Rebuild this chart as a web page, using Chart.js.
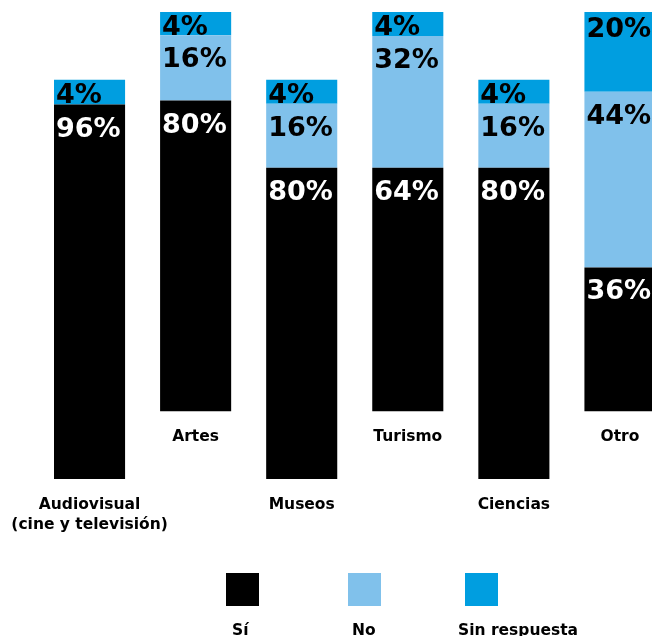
<!DOCTYPE html>
<html>
<head>
<meta charset="utf-8">
<script src="https://cdn.jsdelivr.net/npm/chart.js@4.4.1/dist/chart.umd.min.js"></script>
<style>
  html, body { margin: 0; padding: 0; background: #fff; overflow: hidden; }
  #wrap { width: 680px; height: 636px; }
</style>
</head>
<body>
<div id="wrap"><canvas id="chart"></canvas></div>
<script>
// ---------------------------------------------------------------
//  データ (棒の高さは画像から読んだ値、ラベルは表示されている文字)
// ---------------------------------------------------------------
const categories = [
  ['Audiovisual', '(cine y televisión)'],
  ['Artes'],
  ['Museos'],
  ['Turismo'],
  ['Ciencias'],
  ['Otro']
];
const siValues = [93.8, 77.8, 78, 61, 78, 36];
const noValues = [0, 16.4, 16, 33, 16, 44];
const sinRespuestaValues = [6.2, 5.8, 6, 6, 6, 20];
const siLabels = ['96%', '80%', '80%', '64%', '80%', '36%'];
const noLabels = ['', '16%', '16%', '32%', '16%', '44%'];
const sinRespuestaLabels = ['4%', '4%', '4%', '4%', '4%', '20%'];
const seriesNames = ['Sí', 'No', 'Sin respuesta'];
const seriesColors = ['#000000', '#80c1eb', '#009ee0'];

// 偶数番目の棒を上にずらす量 (軸の単位)
const SHIFT = 17;
const FONT = '"DejaVu Sans", Verdana, sans-serif';

function baseOf(i) { return i % 2 === 1 ? SHIFT : 0; }

const siData = siValues.map((v, i) => [baseOf(i), baseOf(i) + v]);
const noData = noValues.map((v, i) => [baseOf(i) + siValues[i], baseOf(i) + siValues[i] + v]);
const srData = sinRespuestaValues.map((v, i) => [baseOf(i) + siValues[i] + noValues[i], baseOf(i) + siValues[i] + noValues[i] + v]);
const allLabels = [siLabels, noLabels, sinRespuestaLabels];

// ---------------------------------------------------------------
//  ラベル描画プラグイン
// ---------------------------------------------------------------
const labelPlugin = {
  id: 'labelPlugin',
  afterDatasetsDraw(chart) {
    const ctx = chart.ctx;
    ctx.save();
    // 値ラベル
    ctx.font = 'bold 27px ' + FONT;
    ctx.textAlign = 'left';
    ctx.textBaseline = 'alphabetic';
    chart.data.datasets.forEach((ds, di) => {
      const meta = chart.getDatasetMeta(di);
      meta.data.forEach((el, i) => {
        const txt = allLabels[di][i];
        if (!txt) return;
        const top = Math.min(el.y, el.base);
        const h = Math.abs(el.base - el.y);
        const pad = di === 2 ? Math.max(3, Math.min(5, (h - 20) / 2)) : 12;
        ctx.fillStyle = di === 0 ? '#ffffff' : '#000000';
        ctx.fillText(txt, el.x - el.width / 2 + 2, top + pad + 20);
      });
    });
    // カテゴリラベル
    ctx.font = 'bold 15.5px ' + FONT;
    ctx.textAlign = 'center';
    ctx.fillStyle = '#000000';
    const meta0 = chart.getDatasetMeta(0);
    meta0.data.forEach((el, i) => {
      const bottom = Math.max(el.y, el.base);
      categories[i].forEach((line, li) => {
        ctx.fillText(line, el.x, bottom + 30 + li * 20);
      });
    });
    // 凡例
    const boxX = [226, 348, 465];
    const textX = [232, 352, 458];
    ctx.textAlign = 'left';
    seriesNames.forEach((name, i) => {
      ctx.fillStyle = seriesColors[i];
      ctx.fillRect(boxX[i], 573, 33, 33);
      ctx.fillStyle = '#000000';
      ctx.fillText(name, textX[i], 635);
    });
    ctx.restore();
  }
};

// ---------------------------------------------------------------
//  グラフ
// ---------------------------------------------------------------
new Chart(document.getElementById('chart'), {
  type: 'bar',
  data: {
    labels: categories.map(c => c.join(' ')),
    datasets: [
      { label: seriesNames[0], data: siData, backgroundColor: seriesColors[0] },
      { label: seriesNames[1], data: noData, backgroundColor: seriesColors[1] },
      { label: seriesNames[2], data: srData, backgroundColor: seriesColors[2] }
    ]
  },
  options: {
    responsive: true, maintainAspectRatio: false,
    animation: false,
    layout: { padding: { left: 36.5, right: 7, top: 12, bottom: 157 } },
    datasets: { bar: { barPercentage: 0.67, categoryPercentage: 1, borderWidth: 0 } },
    scales: {
      x: { stacked: true, display: false },
      y: { stacked: false, display: false, min: 0, max: 100 + SHIFT }
    },
    plugins: { legend: { display: false }, tooltip: { enabled: false } }
  },
  plugins: [labelPlugin]
});
</script>
</body>
</html>
